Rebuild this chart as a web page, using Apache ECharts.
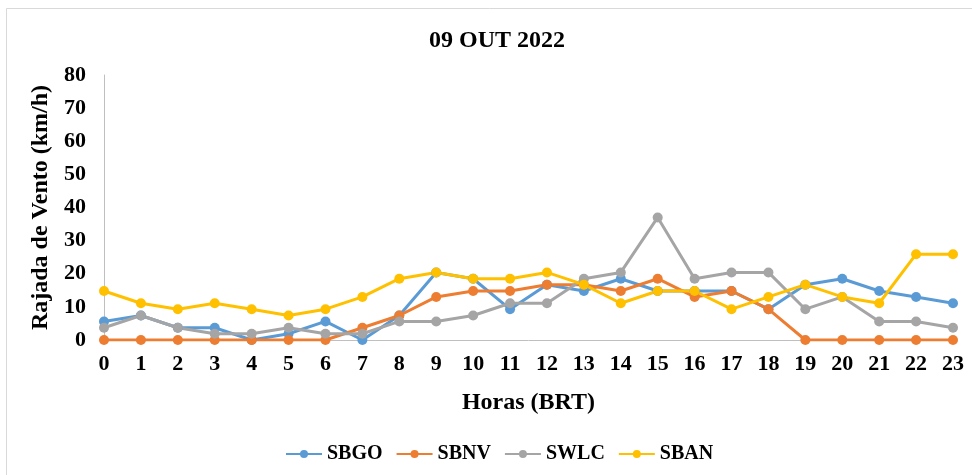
<!DOCTYPE html>
<html>
<head>
<meta charset="utf-8">
<script src="https://cdn.jsdelivr.net/npm/echarts@6/dist/echarts.min.js"></script>
<style>
  html, body { margin: 0; padding: 0; background: #fff; }
  #chart { width: 972px; height: 475px; }
</style>
</head>
<body>
<div id="chart"></div>
<script>
// Hourly wind gusts (km/h) on 09 OUT 2022
const hours = ['0','1','2','3','4','5','6','7','8','9','10','11','12','13','14','15','16','17','18','19','20','21','22','23'];
const sbgo = [5.6, 7.4, 3.7, 3.7, 0, 1.9, 5.6, 0, 7.4, 20.4, 18.5, 9.3, 16.7, 14.8, 18.5, 14.8, 14.8, 14.8, 9.3, 16.7, 18.5, 14.8, 13, 11.1];
const sbnv = [0, 0, 0, 0, 0, 0, 0, 3.7, 7.4, 13, 14.8, 14.8, 16.7, 16.7, 14.8, 18.5, 13, 14.8, 9.3, 0, 0, 0, 0, 0];
const swlc = [3.7, 7.4, 3.7, 1.9, 1.9, 3.7, 1.9, 1.9, 5.6, 5.6, 7.4, 11.1, 11.1, 18.5, 20.4, 37, 18.5, 20.4, 20.4, 9.3, 13, 5.6, 5.6, 3.7];
const sban = [14.8, 11.1, 9.3, 11.1, 9.3, 7.4, 9.3, 13, 18.5, 20.4, 18.5, 18.5, 20.4, 16.7, 11.1, 14.8, 14.8, 9.3, 13, 16.7, 13, 11.1, 25.9, 25.9];

const seriesNames = ['SBGO', 'SBNV', 'SWLC', 'SBAN'];
const seriesData = [sbgo, sbnv, swlc, sban];
const colors = ['#5B9BD5', '#ED7D31', '#A5A5A5', '#FFC000'];

const font = 'Liberation Serif';
const chart = echarts.init(document.getElementById('chart'));

chart.setOption({
  animation: false,
  color: colors,
  graphic: [{
    type: 'rect',
    shape: { x: 6.5, y: 8.5, width: 1000, height: 1000 },
    style: { fill: 'none', stroke: '#d9d9d9', lineWidth: 1 },
    silent: true
  }],
  title: {
    text: '09 OUT 2022',
    left: 424,
    top: 24,
    textStyle: { fontFamily: font, fontWeight: 'bold', fontSize: 24, color: '#000' }
  },
  legend: {
    data: seriesNames,
    left: 280,
    top: 439,
    itemWidth: 36,
    itemHeight: 10,
    itemGap: 13,
    textStyle: { fontFamily: font, fontWeight: 'bold', fontSize: 20, color: '#000' }
  },
  grid: { left: 104, right: 19, top: 75, bottom: 135, containLabel: false },
  xAxis: {
    type: 'category',
    data: hours,
    boundaryGap: false,
    name: 'Horas (BRT)',
    nameLocation: 'middle',
    nameGap: 51,
    nameTextStyle: { fontFamily: font, fontWeight: 'bold', fontSize: 24, color: '#000' },
    axisLine: { lineStyle: { color: '#bfbfbf', width: 1 } },
    axisTick: { show: false },
    axisLabel: { fontFamily: font, fontWeight: 'bold', fontSize: 22, color: '#000', margin: 13 },
    splitLine: { show: false }
  },
  yAxis: {
    type: 'value',
    min: 0,
    max: 80,
    interval: 10,
    name: 'Rajada de Vento (km/h)',
    nameLocation: 'middle',
    nameGap: 42,
    nameTextStyle: { fontFamily: font, fontWeight: 'bold', fontSize: 24, color: '#000' },
    axisLine: { show: true, lineStyle: { color: '#bfbfbf', width: 1 } },
    axisTick: { show: false },
    axisLabel: { fontFamily: font, fontWeight: 'bold', fontSize: 22, color: '#000', margin: 18 },
    splitLine: { show: false }
  },
  series: seriesNames.map((name, i) => ({
    name: name,
    type: 'line',
    data: seriesData[i],
    symbol: 'circle',
    symbolSize: 10,
    lineStyle: { width: 3, color: colors[i] },
    itemStyle: { color: colors[i] }
  }))
});
</script>
</body>
</html>
